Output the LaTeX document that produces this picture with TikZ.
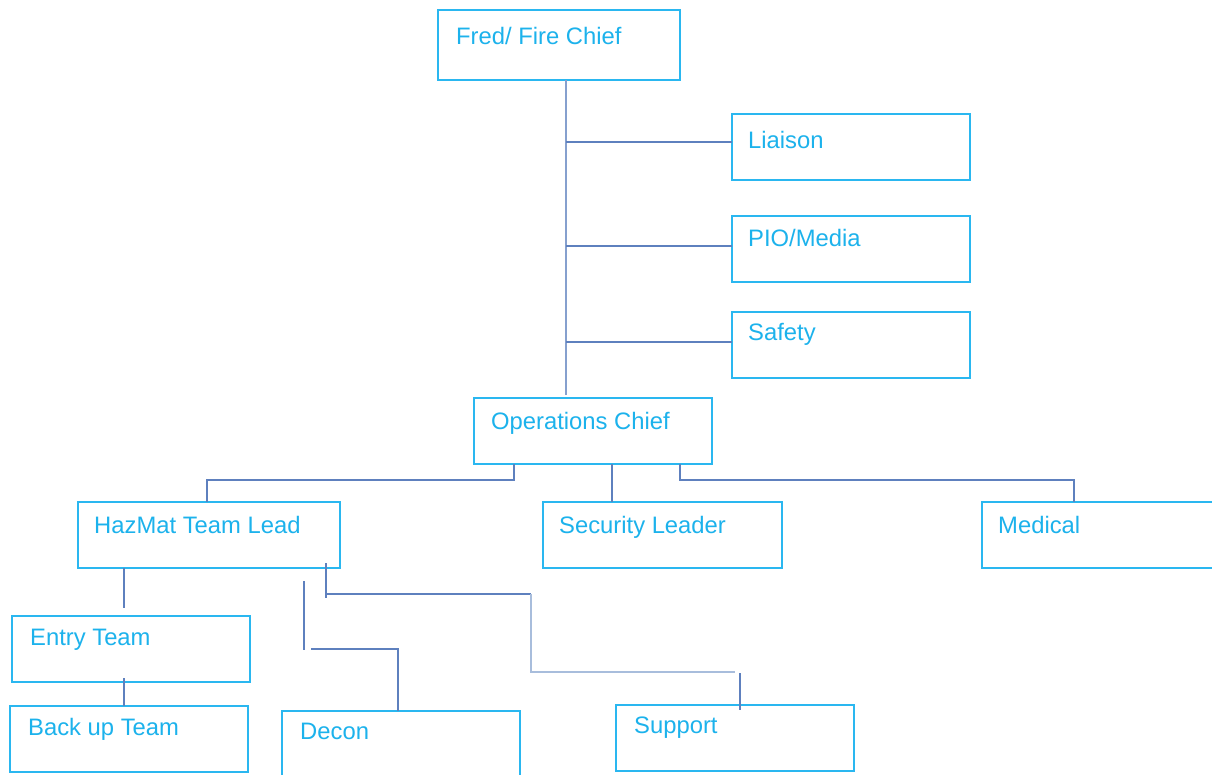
\documentclass[tikz,border=0pt]{standalone}
\usepackage{fontspec}
\setmainfont{Liberation Sans}
\definecolor{boxblue}{HTML}{2AB7F0}
\definecolor{txtblue}{HTML}{1CB2EC}
\definecolor{linkblue}{HTML}{5E80BE}
\definecolor{linklight}{HTML}{A8BDDC}
\begin{document}
\begin{tikzpicture}[x=1pt,y=-1pt,
  box/.style={draw=boxblue, line width=2pt, anchor=north west, minimum width=238pt, minimum height=66pt, inner sep=0pt, outer sep=0pt},
  lbl/.style={anchor=base west, text=txtblue, inner sep=0pt, font=\fontsize{23.8}{27}\selectfont},
  conn/.style={draw=linkblue, line width=2pt},
  connlight/.style={draw=linklight, line width=2.8pt}]
\useasboundingbox[fill=white] (0,0) rectangle (1212,775);
% boxes
\node[box, minimum width=242pt, minimum height=70pt] (fred) at (438,10) {};
\node[box] (liaison) at (732,114) {};
\node[box] (pio) at (732,216) {};
\node[box] (safety) at (732,312) {};
\node[box] (ops) at (474,398) {};
\node[box, minimum width=262pt] (hazmat) at (78,502) {};
\node[box, minimum width=239pt] (security) at (543,502) {};
\node[box, minimum width=250pt] (medical) at (982,502) {};
\node[box] (entry) at (12,616) {};
\node[box] (backup) at (10,706) {};
\node[box, minimum height=70pt] (decon) at (282,711) {};
\node[box] (support) at (616,705) {};
% labels
\node[lbl] (fredt) at (456,45) {Fred/ Fire Chief};
\node[lbl] (liaisont) at (748,149) {Liaison};
\node[lbl] (piot) at (748,247) {PIO/Media};
\node[lbl] (safetyt) at (748,341) {Safety};
\node[lbl] (opst) at (491,429) {Operations Chief};
\node[lbl] (hazmatt) at (94,533) {HazMat Team Lead};
\node[lbl] (securityt) at (559,533) {Security Leader};
\node[lbl] (medicalt) at (998,533) {Medical};
\node[lbl] (entryt) at (30,645) {Entry Team};
\node[lbl] (backupt) at (28,735) {Back up Team};
\node[lbl] (decont) at (300,739) {Decon};
\node[lbl] (supportt) at (634,733) {Support};
% spine
\coordinate (spine) at (566,0);
\draw[conn, line width=2.4pt, draw=linkblue!75] (fred.south -| spine) -- ([yshift=3pt]spine |- ops.north);
\coordinate (jl) at (566,142);
\coordinate (jp) at (566,246);
\coordinate (js) at (566,342);
\draw[conn] (jl) -- (jl -| liaison.west);
\draw[conn] (jp) -- (jp -| pio.west);
\draw[conn] (js) -- (js -| safety.west);
% operations children
\coordinate (xa) at (514,480);
\coordinate (xb) at (207,480);
\coordinate (xs) at (612,0);
\coordinate (xc) at (680,480);
\coordinate (xd) at (1074,480);
\draw[conn] (xa |- ops.south) -- (xa) -- (xb) -- (xb |- hazmat.north);
\draw[conn] (xs |- ops.south) -- (xs |- security.north);
\draw[conn] (xc |- ops.south) -- (xc) -- (xd) -- (xd |- medical.north);
% hazmat children
\coordinate (xe) at (124,0);
\draw[conn] (xe |- hazmat.south) -- ([yshift=8pt]xe |- entry.north);
\draw[conn] ([yshift=4pt]xe |- entry.south) -- (xe |- backup.north);
\coordinate (k1) at (326,594);
\coordinate (k2) at (531,594);
\coordinate (k3) at (531,672);
\coordinate (k4) at (735,672);
\coordinate (k5) at (740,673);
\draw[conn] ([yshift=5pt]k1 |- hazmat.south) -- ([yshift=-4pt]k1);
\draw[conn] (k1) -- (k2);
\draw[connlight] (k2) -- (k3) -- (k4);
\draw[conn] (k5) -- ([yshift=-5pt]k5 |- support.north);
\coordinate (d1) at (304,581);
\coordinate (d2) at (304,650);
\coordinate (d3) at (311,649);
\coordinate (d4) at (398,649);
\draw[conn] (d1) -- (d2);
\draw[conn] (d3) -- (d4) -- (d4 |- decon.north);
\end{tikzpicture}
\end{document}
